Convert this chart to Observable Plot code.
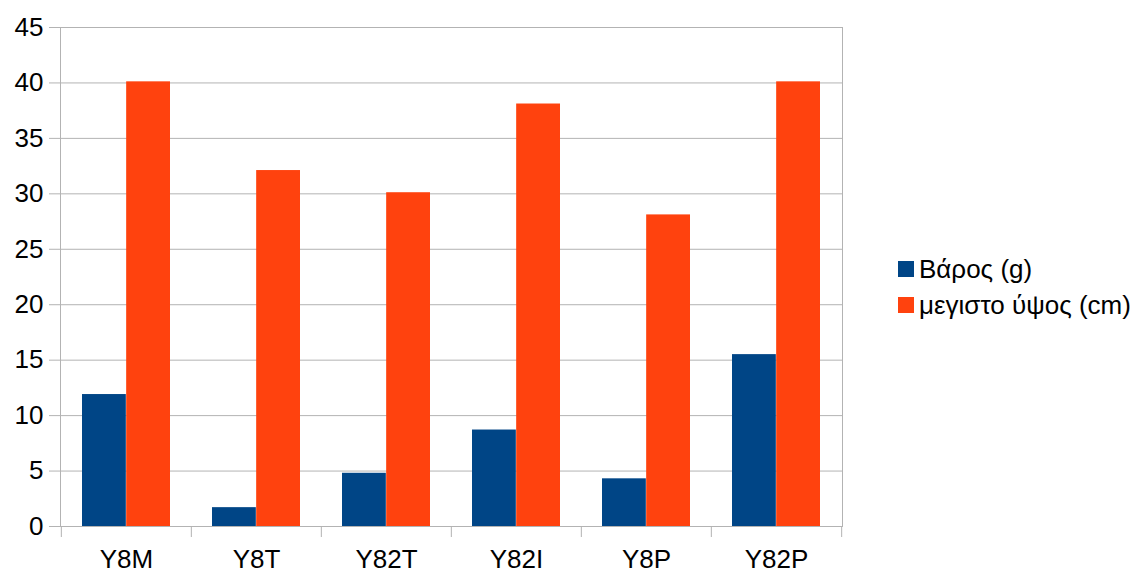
<!DOCTYPE html>
<html>
<head>
<meta charset="utf-8">
<script src="https://cdn.jsdelivr.net/npm/d3@7"></script>
<script src="https://cdn.jsdelivr.net/npm/@observablehq/plot@0.6"></script>
<style>
  html, body { margin: 0; padding: 0; background: #fff; }
  #chart { position: relative; width: 1135px; height: 571px; font-family: "Liberation Sans", Arial, sans-serif; }
  #chart svg { overflow: visible; }
  #legend { position: absolute; left: 898px; top: 251px; font-size: 26px; color: #000; }
  .row { display: flex; align-items: center; height: 36px; white-space: nowrap; }
  .swatch { width: 16px; height: 16px; margin-right: 5px; flex: none; }
</style>
</head>
<body>
<div id="chart"><div id="legend"></div></div>
<script>
// Samples and their measurements
const categories = ["Y8M", "Y8T", "Y82T", "Y82I", "Y8P", "Y82P"];
const weight = [11.9, 1.7, 4.8, 8.7, 4.3, 15.5];        // Βάρος (g)
const maxHeight = [40.1, 32.1, 30.1, 38.1, 28.1, 40.1]; // μεγιστο ύψος (cm)
const seriesNames = ["Βάρος (g)", "μεγιστο ύψος (cm)"];
const seriesColors = ["#004586", "#ff420e"];
const yTicks = [0, 5, 10, 15, 20, 25, 30, 35, 40, 45];

const rows = [
  ...categories.map((c, i) => ({category: c, series: seriesNames[0], value: weight[i]})),
  ...categories.map((c, i) => ({category: c, series: seriesNames[1], value: maxHeight[i]}))
];

const W = 1135, H = 571;
const mL = 60, mR = 293, mT = 27, mB = 45;
const step = (W - mL - mR) / categories.length; // width of one category slot
const gap = 21;                                  // space between slot edge and bar pair
const barW = (step - 2 * gap) / 2;

const grey = "#b3b3b3";

const chart = Plot.plot({
  width: W,
  height: H,
  marginLeft: mL,
  marginRight: mR,
  marginTop: mT,
  marginBottom: mB,
  style: {fontFamily: "Liberation Sans, Arial, sans-serif", fontSize: "26px", color: "#000", background: "#fff"},
  x: {domain: categories, padding: 0},
  y: {domain: [0, 45]},
  color: {domain: seriesNames, range: seriesColors},
  marks: [
    Plot.gridY(yTicks, {stroke: grey, strokeOpacity: 1}),
    Plot.barY(rows.filter(d => d.series === seriesNames[0]), {
      x: "category", y: "value", fill: "series",
      insetLeft: gap, insetRight: step - gap - barW
    }),
    Plot.barY(rows.filter(d => d.series === seriesNames[1]), {
      x: "category", y: "value", fill: "series",
      insetLeft: gap + barW, insetRight: gap
    }),
    Plot.frame({stroke: grey}),
    Plot.axisY({ticks: yTicks, tickSize: 11, tickPadding: 6, stroke: grey, label: null}),
    // category boundary ticks below the baseline
    Plot.ruleX(categories, {x: d => d, y1: 0, y2: 0, insetBottom: -11, dx: -step / 2, stroke: grey}),
    Plot.ruleX(categories.slice(-1), {x: d => d, y1: 0, y2: 0, insetBottom: -11, dx: step / 2, stroke: grey}),
    Plot.axisX({tickSize: 0, tickPadding: 23, label: null})
  ]
});

document.getElementById("chart").prepend(chart);

// Series legend to the right of the plot
const legend = document.getElementById("legend");
seriesNames.forEach((name, i) => {
  const row = document.createElement("div");
  row.className = "row";
  const sw = document.createElement("span");
  sw.className = "swatch";
  sw.style.background = seriesColors[i];
  const label = document.createElement("span");
  label.textContent = name;
  row.append(sw, label);
  legend.append(row);
});
</script>
</body>
</html>
